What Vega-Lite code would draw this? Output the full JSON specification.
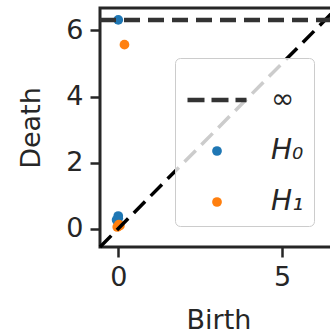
{
  "$schema": "https://vega.github.io/schema/vega-lite/v6.json",
  "autosize": "none",
  "padding": {"left": 100, "top": 8, "right": 0, "bottom": 88},
  "width": 237,
  "height": 239,
  "config": {
    "font": "DejaVu Sans",
    "view": {"stroke": "#262626", "strokeWidth": 3},
    "axis": {
      "grid": false,
      "domain": false,
      "tickSize": 10,
      "tickWidth": 2.5,
      "tickColor": "#262626",
      "labelFont": "DejaVu Sans",
      "labelFontSize": 27,
      "labelColor": "#262626",
      "labelPadding": 7,
      "titleFont": "DejaVu Sans",
      "titleFontSize": 27,
      "titleFontWeight": "normal",
      "titleColor": "#262626"
    }
  },
  "encoding": {
    "x": {
      "field": "birth",
      "type": "quantitative",
      "scale": {"domain": [-0.557, 6.68], "nice": false, "zero": false},
      "axis": {"title": "Birth", "values": [0, 5], "titlePadding": 17}
    },
    "y": {
      "field": "death",
      "type": "quantitative",
      "scale": {"domain": [-0.557, 6.68], "nice": false, "zero": false},
      "axis": {"title": "Death", "values": [0, 2, 4, 6], "titlePadding": 20}
    }
  },
  "layer": [
    {
      "data": {
        "values": [
          {"birth": 0, "death": 6.32, "dim": "H₀"},
          {"birth": 0, "death": 0.38, "dim": "H₀"},
          {"birth": 0, "death": 0.31, "dim": "H₀"},
          {"birth": -0.05, "death": 0.26, "dim": "H₀"},
          {"birth": 0.19, "death": 5.57, "dim": "H₁"},
          {"birth": 0.02, "death": 0.12, "dim": "H₁"},
          {"birth": -0.03, "death": 0.05, "dim": "H₁"},
          {"birth": 0.05, "death": 0.09, "dim": "H₁"}
        ]
      },
      "mark": {"type": "point", "filled": true, "opacity": 1},
      "encoding": {
        "color": {
          "field": "dim",
          "type": "nominal",
          "scale": {"domain": ["∞", "H₀", "H₁"], "range": ["#333333", "#1f77b4", "#ff7f0e"]},
          "legend": {
            "title": null,
            "orient": "none",
            "legendX": 75,
            "legendY": 50,
            "strokeColor": "#cccccc",
            "fillColor": "rgba(255,255,255,0.8)",
            "cornerRadius": 5,
            "padding": 10,
            "rowPadding": 23,
            "labelFont": "DejaVu Sans",
            "labelFontSize": 28,
            "labelFontStyle": "italic",
            "labelColor": "#262626",
            "labelOffset": 22,
            "symbolOpacity": 1
          }
        },
        "stroke": {
          "field": "dim",
          "type": "nominal",
          "scale": {"domain": ["∞", "H₀", "H₁"], "range": ["#333333", "#1f77b4", "#ff7f0e"]}
        },
        "shape": {
          "field": "dim",
          "type": "nominal",
          "scale": {"domain": ["∞", "H₀", "H₁"], "range": ["stroke", "circle", "circle"]}
        },
        "size": {
          "field": "dim",
          "type": "nominal",
          "scale": {"type": "ordinal", "domain": ["∞", "H₀", "H₁"], "range": [3481, 95, 95]}
        },
        "strokeWidth": {
          "field": "dim",
          "type": "nominal",
          "scale": {"type": "ordinal", "domain": ["∞", "H₀", "H₁"], "range": [4.5, 0, 0]}
        },
        "strokeDash": {
          "field": "dim",
          "type": "nominal",
          "scale": {"domain": ["∞", "H₀", "H₁"], "range": [[17, 7], [1, 0], [1, 0]]}
        }
      }
    },
    {
      "data": {"values": [{"birth": -0.557, "death": -0.557, "birth2": 6.68, "death2": 6.68}]},
      "mark": {"type": "rule", "color": "#000000", "strokeWidth": 3.5, "strokeDash": [16, 8]},
      "encoding": {"x2": {"field": "birth2"}, "y2": {"field": "death2"}}
    },
    {
      "data": {"values": [{"birth": -0.557, "death": 6.32, "birth2": 6.68, "death2": 6.32}]},
      "mark": {"type": "rule", "color": "#333333", "strokeWidth": 4.5, "strokeDash": [16, 8]},
      "encoding": {"x2": {"field": "birth2"}, "y2": {"field": "death2"}}
    }
  ]
}
